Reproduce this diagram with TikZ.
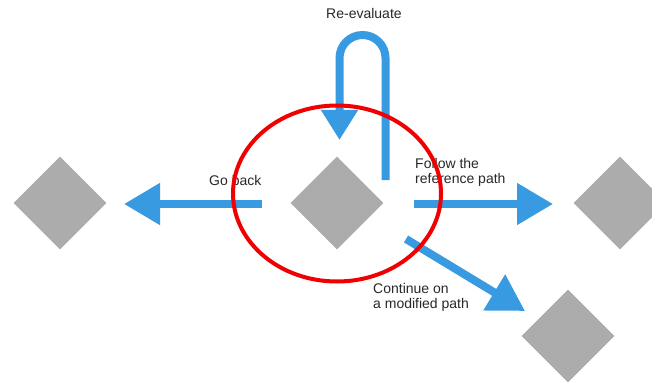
\documentclass[tikz,border=0pt]{standalone}
\usepackage{fontspec}
\setmainfont{Liberation Sans}
\usetikzlibrary{arrows.meta,shapes.geometric}
\definecolor{arrowblue}{RGB}{56,155,225}
\definecolor{diagray}{RGB}{172,172,172}
\definecolor{txtgray}{RGB}{40,40,40}
\definecolor{ringred}{RGB}{240,0,0}
\tikzset{
  stepdiamond/.style={diamond, aspect=1, minimum size=93pt, inner sep=0pt, fill=diagray, draw=none},
  bigarrow/.style={draw=arrowblue, line width=8pt, -{Triangle[length=36pt,width=40pt]}},
  smallarrow/.style={draw=arrowblue, line width=8pt, -{Triangle[length=30pt,width=35pt]}},
  lbl/.style={font=\fontsize{14}{15}\selectfont, text=txtgray, inner sep=0pt, align=left}
}
\begin{document}
\begin{tikzpicture}[x=1pt,y=-1pt]
\clip (0,0) rectangle (652,382);
\fill[white] (0,0) rectangle (652,382);
% diamonds
\node[stepdiamond] (left)   at (60,203)  {};
\node[stepdiamond] (center) at (337,203) {};
\node[stepdiamond] (right)  at (620,203) {};
\node[stepdiamond] (lower)  at (568,336) {};
% arrow end points
\coordinate (gbS) at (262,204);
\coordinate (gbE) at (124,204);
\coordinate (frS) at (414,204);
\coordinate (frE) at (553,204);
\coordinate (cmS) at (406,239);
\coordinate (cmE) at (525,311);
\coordinate (reS) at (385.5,180);
\coordinate (reT) at (385.5,58);
\coordinate (reE) at (339.5,140);
% arrows
\draw[bigarrow] (gbS) -- (gbE);
\draw[bigarrow] (frS) -- (frE);
\draw[bigarrow] (cmS) -- (cmE);
\draw[smallarrow] (reS) -- (reT) arc[start angle=0,end angle=180,radius=23pt] -- (reE);
% labels
\node[lbl, anchor=base west] (lre) at (326,19) {Re-evaluate};
\node[lbl, anchor=base west] (lgb) at (209,185) {Go back};
\node[lbl, anchor=base west] (lfr) at (415,183) {Follow the\\reference path};
\node[lbl, anchor=base west] (lcm) at (373,308) {Continue on\\a modified path};
% red ring
\draw[ringred, line width=4pt] (337,193.5) ellipse [x radius=104pt, y radius=88pt];
\end{tikzpicture}
\end{document}
